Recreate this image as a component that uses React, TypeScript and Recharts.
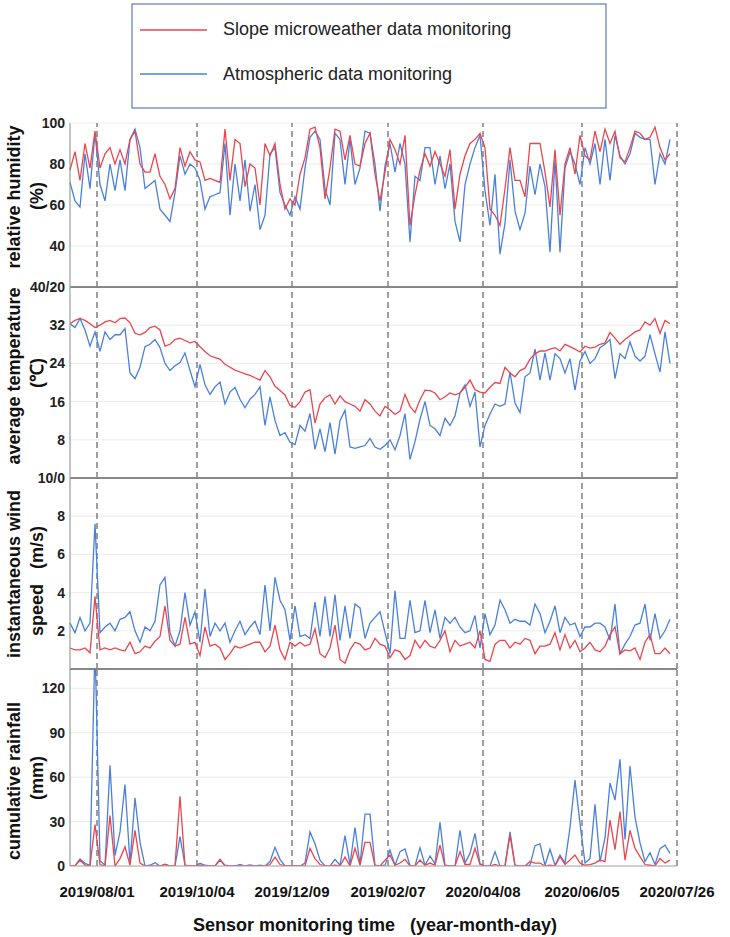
import { LineChart, Line, XAxis, YAxis, CartesianGrid, ReferenceLine } from 'recharts';

// daily-ish samples, roughly every 3 days from mid-July 2019
const humiditySlope = [
  77, 86, 72, 90, 78, 96, 78, 85, 88, 80,
  87, 80, 92, 96, 80, 76, 76, 85, 74, 70,
  63, 68, 88, 79, 86, 82, 81, 72, 73, 72,
  71, 97, 72, 92, 90, 69, 80, 78, 60, 90,
  84, 90, 70, 58, 63, 60, 75, 83, 97, 98,
  88, 63, 78, 97, 96, 82, 94, 80, 79, 90,
  95, 75, 62, 76, 92, 87, 80, 94, 50, 65,
  77, 85, 79, 86, 80, 74, 87, 58, 75, 84,
  90, 92, 95, 88, 58, 55, 50, 68, 88, 72,
  72, 64, 90, 90, 90, 76, 59, 87, 55, 80,
  88, 75, 94, 84, 82, 96, 86, 97, 90, 96,
  83, 81, 88, 96, 95, 92, 93, 98, 88, 82,
  85,
];
const humidityAtmo = [
  71, 62, 59, 85, 68, 95, 70, 62, 80, 67,
  82, 67, 92, 97, 88, 68, 70, 72, 58, 55,
  52, 66, 84, 75, 80, 78, 72, 58, 64, 65,
  66, 90, 55, 80, 62, 82, 57, 70, 48, 55,
  85, 88, 66, 60, 55, 64, 58, 78, 93, 96,
  92, 68, 60, 95, 92, 70, 92, 70, 78, 96,
  95, 80, 57, 79, 90, 76, 90, 80, 42, 74,
  72, 88, 88, 70, 84, 68, 80, 52, 42, 70,
  80, 88, 94, 67, 50, 75, 36, 51, 82, 57,
  48, 56, 79, 65, 80, 69, 37, 82, 37, 78,
  86, 80, 70, 88, 80, 90, 70, 92, 72, 94,
  84, 80, 85, 95, 93, 92, 92, 70, 85, 80,
  92,
];
const tempSlope = [
  32.3, 33, 33.4, 33, 32.3, 31.5, 32, 32.7, 33, 32.5,
  33.4, 33.5, 32.5, 30.3, 30, 30.5, 31.5, 31.8, 31, 27.6,
  28, 29, 29.3, 28.8, 28.3, 28.6, 27.5, 26.5, 25.6, 25.2,
  24.9, 23.8, 23.2, 22.6, 22.2, 21.8, 21.5, 21, 20.5, 22.5,
  21.2, 19.2, 18.3, 17.4, 15.2, 14.8, 16, 18, 18.5, 11.5,
  15.5, 16.8, 17.4, 15.5, 17.2, 16, 15.5, 15, 14, 16.4,
  15.5, 14, 13, 15, 14.3, 13.3, 14, 17.5, 15, 13.7,
  16.4, 18.4, 18.3, 17.8, 16.4, 17, 17.8, 17.4, 17.8, 19,
  20.5, 18.5, 18, 17.8, 19, 20, 19.8, 23.2, 22, 21.2,
  22.5, 23, 24.9, 26, 26.6, 26.6, 27, 27.3, 26.6, 28,
  27.5, 27, 26.4, 27.6, 27.2, 27.4, 28, 28.3, 30.5, 29.3,
  28, 29, 29.8, 30.6, 31, 32.7, 32, 33.4, 30.3, 33,
  32.3,
];
const tempAtmo = [
  32.3, 31.5, 33.4, 31, 27.6, 30.6, 26.5, 30.6, 29, 30,
  30, 31.3, 22, 20.8, 23.2, 27.5, 28, 29, 27.3, 24,
  22.5, 23.5, 24.2, 26.2, 22.5, 19.1, 23.8, 19.5, 17.5, 19.1,
  20.1, 15.5, 18, 19, 16.5, 14.7, 16.5, 17.5, 19.1, 11,
  17, 12, 8.9, 9.5, 7.5, 7, 11, 9.8, 13.5, 6,
  10.3, 5.5, 11.6, 5, 12, 14.2, 6.5, 6.2, 6.5, 6.8,
  8.3, 6.5, 6, 6.8, 8, 5.9, 8.9, 13.5, 3.9, 7.6,
  12.3, 16, 11, 10.3, 8.9, 12.5, 11, 13, 17.8, 19.5,
  15, 18, 6.5, 11, 13.4, 15.5, 15, 15.5, 22.2, 15.7,
  13.7, 21.2, 22, 27, 20.5, 26.2, 20.5, 26, 25, 22,
  25, 18.4, 24.5, 26.5, 24, 25, 27.3, 28, 29, 20.8,
  26, 25, 28.5, 25.5, 24.5, 25.5, 30, 26, 22.2, 30.6,
  24,
];
const windSlope = [
  1.1, 1.0, 1.0, 1.1, 0.85, 3.8, 1.0, 1.1, 1.0, 1.1,
  1.0, 0.95, 1.4, 0.8, 0.9, 1.2, 1.1, 1.45, 1.7, 3.3,
  1.5, 1.2, 1.3, 2.7, 1.3, 1.4, 0.7, 2.2, 1.2, 1.3,
  1.1, 0.5, 0.8, 1.2, 1.1, 1.2, 1.3, 1.4, 1.4, 0.9,
  1.2, 2.3, 1.0, 0.5, 1.4, 1.2, 1.4, 1.2, 1.3, 2.1,
  0.8, 0.6, 1.1, 2.3, 0.5, 0.3, 1.0, 1.4, 1.3, 1.0,
  1.1, 1.6, 1.3, 1.2, 0.6, 1.0, 0.9, 0.5, 0.7, 1.5,
  1.1, 1.5, 1.2, 1.1, 1.5, 2.0, 0.9, 1.5, 1.2, 1.3,
  1.4, 1.1, 2.0, 0.5, 0.4, 1.3, 1.5, 1.5, 1.1, 1.4,
  1.3, 1.6, 1.5, 0.8, 1.2, 1.2, 1.3, 1.9, 1.0, 1.8,
  1.1, 1.5, 0.9, 1.1, 1.4, 1.0, 0.9, 1.2, 1.8, 2.2,
  0.8, 1.0, 0.95, 1.1, 0.5, 1.4, 1.8, 0.8, 0.8, 1.1,
  0.8,
];
const windAtmo = [
  2.4, 1.9, 2.7, 2.0, 2.4, 7.6, 1.9, 2.2, 2.4, 2.0,
  2.6, 2.7, 3.0, 2.0, 1.4, 2.2, 2.0, 2.5, 4.4, 4.8,
  1.9, 1.2, 2.0, 4.0, 2.3, 3.0, 1.4, 4.2, 1.7, 2.4,
  2.0, 2.4, 1.4, 2.0, 2.5, 1.8, 2.2, 2.5, 1.8, 4.4,
  2.0, 4.8, 3.6, 3.1, 1.5, 3.3, 1.7, 1.8, 1.6, 3.5,
  1.7, 3.8, 1.7, 3.9, 1.5, 3.3, 1.6, 3.4, 3.2, 1.6,
  2.4, 2.7, 3.0, 1.9, 0.8, 4.1, 1.6, 1.6, 3.6, 1.9,
  2.0, 3.6, 1.9, 3.1, 1.6, 2.7, 2.4, 2.7, 2.2, 1.9,
  2.0, 2.8, 1.1, 2.9, 1.8, 2.3, 3.6, 3.1, 2.4, 2.6,
  2.5, 2.5, 2.3, 3.4, 2.9, 1.9, 2.5, 3.3, 1.9, 2.7,
  2.3, 2.4, 1.7, 2.2, 2.2, 2.4, 2.4, 2.2, 1.5, 3.4,
  0.8, 1.3, 1.7, 2.3, 2.4, 3.4, 1.5, 2.9, 1.6, 2.0,
  2.6,
];
const rainSlope = [
  0, 0, 4, 0.5, 0, 28, 1, 0, 34, 0,
  5, 13, 0.5, 24, 2, 0, 0, 0, 0, 1,
  0, 0, 47, 0, 0, 0, 0.5, 0, 0, 0,
  4.5, 0, 0, 0, 0, 0, 0, 0, 0, 0,
  1, 6, 1, 0, 0, 0, 0, 0, 12, 5,
  1, 0, 0, 0.5, 0, 6, 0, 12, 0.5, 16,
  16, 0, 0, 4, 7.4, 0.5, 2, 4.5, 0, 0,
  4, 0.5, 2, 0.5, 14, 0, 0, 0, 9.7, 1,
  1, 12, 1, 0, 0, 1, 0, 0, 21, 0,
  0, 0, 3, 2, 2, 0, 0.5, 0, 6.3, 1,
  4, 7.4, 2, 0.5, 1, 2, 4, 3, 31, 11,
  36.7, 4, 24, 12, 6.3, 1, 0.5, 0, 5, 2,
  4,
];
const rainAtmo = [
  0, 0, 4.7, 1.8, 0.5, 150, 3.5, 0.5, 68, 7,
  23, 55, 2, 46, 16, 0, 0.5, 2.2, 0, 1.3,
  0, 0, 19.8, 0.5, 0, 0, 1.8, 0.5, 0, 0,
  4, 0.5, 0, 0, 1, 0, 0.8, 0, 0.5, 0,
  3, 12.6, 4.5, 0, 0, 0, 0, 2, 23, 15,
  4, 0, 0, 4.5, 0.5, 20.5, 1, 26, 1, 35,
  35, 0.5, 0, 0.5, 10.8, 0.5, 9.7, 11.5, 0.3, 0,
  12.4, 0.5, 6.8, 1.5, 29.5, 0.5, 0, 0, 24, 2,
  8.5, 22, 1.5, 0, 0, 9.7, 0, 0, 23, 0.5,
  0, 0, 0.5, 13.7, 15, 0.5, 11.3, 0.5, 7.4, 2,
  26, 58, 28.8, 2, 5, 41.6, 3, 19, 56, 44.5,
  72, 18, 67.5, 33, 15.7, 3, 9, 1, 11.7, 14,
  8.5,
];

const dateLabels = ['2019/08/01', '2019/10/04', '2019/12/09', '2019/02/07', '2020/04/08', '2020/06/05', '2020/07/26'];
const dateIndex = [5.4, 25.4, 44.4, 63.6, 82.6, 102.4, 121.4];

const RED = '#e8474f';
const BLUE = '#4a80dc';
const FONT = '"Liberation Sans", Arial, sans-serif';
const W = 730;
const X_MAX = 121.4;

const rows = (a: number[], b: number[]) => a.map((v, i) => ({ i, slope: v, atmo: b[i] }));

const tickStyle = { fontSize: 14, fontWeight: 700, fill: '#222', fontFamily: FONT };

const DateTick = ({ x, y, payload }: any) => (
  <text x={x} y={y + 23} textAnchor="middle" fontSize={15} fontWeight={700} fill="#111" fontFamily={FONT}>
    {dateLabels[dateIndex.indexOf(payload.value)]}
  </text>
);

interface PanelProps {
  data: { i: number; slope: number; atmo: number }[];
  top: number;
  plotHeight: number;
  domain: [number, number];
  ticks: number[];
  format?: (v: number) => string;
  separator?: number;
  bottomAxis?: boolean;
}

const Panel = ({ data, top, plotHeight, domain, ticks, format, separator, bottomAxis }: PanelProps) => {
  const bottomSpace = bottomAxis ? 50 : 10;
  return (
    <div style={{ position: 'absolute', left: 0, top }}>
      <LineChart width={W} height={plotHeight + 10 + bottomSpace} data={data}
        margin={{ top: 10, right: 53, left: 0, bottom: bottomAxis ? 0 : 10 }}>
        <CartesianGrid vertical={false} stroke="#ececec" />
        <XAxis type="number" dataKey="i" domain={[0, X_MAX]} hide={!bottomAxis}
          ticks={dateIndex} interval={0} tick={<DateTick />} tickLine={false}
          axisLine={{ stroke: '#aaa' }} height={50} />
        <YAxis type="number" domain={domain} ticks={ticks} interval={0} width={70}
          allowDataOverflow tickLine={false} tickSize={0} tickMargin={5}
          axisLine={{ stroke: '#888' }} tick={tickStyle}
          tickFormatter={format ?? ((v: number) => String(v))} />
        {dateIndex.map((d) => (
          <ReferenceLine key={d} x={d} stroke="#808080" strokeWidth={1.5} strokeDasharray="6 4" />
        ))}
        <Line type="linear" dataKey="atmo" stroke={BLUE} strokeWidth={1.3} dot={false} isAnimationActive={false} />
        <Line type="linear" dataKey="slope" stroke={RED} strokeWidth={1.3} dot={false} isAnimationActive={false} />
        {separator !== undefined && <ReferenceLine y={separator} stroke="#222" strokeWidth={2} />}
      </LineChart>
    </div>
  );
};

const VTitle = ({ text, x, y }: { text: string; x: number; y: number }) => (
  <div style={{
    position: 'absolute', left: x, top: y, transform: 'translate(-50%, -50%) rotate(-90deg)',
    whiteSpace: 'pre', fontFamily: FONT, fontWeight: 700, fontSize: 18, color: '#111', lineHeight: 1,
  }}>{text}</div>
);

const App = () => (
  <div style={{ position: 'absolute', left: 0, top: 0, width: W, height: 937, background: '#fff' }}>
    <svg width={476} height={106} style={{ position: 'absolute', left: 131, top: 3 }}>
      <rect x={1} y={1} width={474} height={104} fill="#fff" stroke="#5a7dbf" strokeWidth={1.2} />
      <line x1={9} x2={76} y1={27} y2={27} stroke={RED} strokeWidth={1.5} />
      <text x={92} y={32} fontSize={18} fontFamily={FONT} fill="#222">Slope microweather data monitoring</text>
      <line x1={9} x2={76} y1={71} y2={71} stroke={BLUE} strokeWidth={1.5} />
      <text x={92} y={77} fontSize={18} fontFamily={FONT} fill="#222">Atmospheric data monitoring</text>
    </svg>

    <Panel data={rows(humiditySlope, humidityAtmo)} top={113} plotHeight={164} domain={[20, 100]}
      ticks={[20, 40, 60, 80, 100]} format={(v) => (v === 20 ? '40/20' : String(v))} separator={20} />
    <Panel data={rows(tempSlope, tempAtmo)} top={277} plotHeight={191} domain={[0, 40]}
      ticks={[8, 16, 24, 32]} separator={0} />
    <Panel data={rows(windSlope, windAtmo)} top={468} plotHeight={191} domain={[0, 10]}
      ticks={[2, 4, 6, 8, 10]} format={(v) => (v === 10 ? '10/0' : String(v))} separator={0} />
    <Panel data={rows(rainSlope, rainAtmo)} top={659} plotHeight={197} domain={[0, 133]}
      ticks={[0, 30, 60, 90, 120]} bottomAxis />

    <VTitle text="relative humidity" x={14} y={197} />
    <VTitle text="(%)" x={37} y={196} />
    <VTitle text="average temperature" x={14} y={376} />
    <VTitle text="(℃)" x={37} y={373} />
    <VTitle text="instantaneous wind" x={14} y={574} />
    <VTitle text="speed   (m/s)" x={37} y={581} />
    <VTitle text="cumulative rainfall" x={14} y={781} />
    <VTitle text="(mm)" x={37} y={778} />

    <div style={{
      position: 'absolute', left: 375, top: 916, transform: 'translateX(-50%)', whiteSpace: 'pre',
      fontFamily: FONT, fontWeight: 700, fontSize: 18, color: '#111', lineHeight: 1,
    }}>Sensor monitoring time   (year-month-day)</div>
  </div>
);

export default App;
